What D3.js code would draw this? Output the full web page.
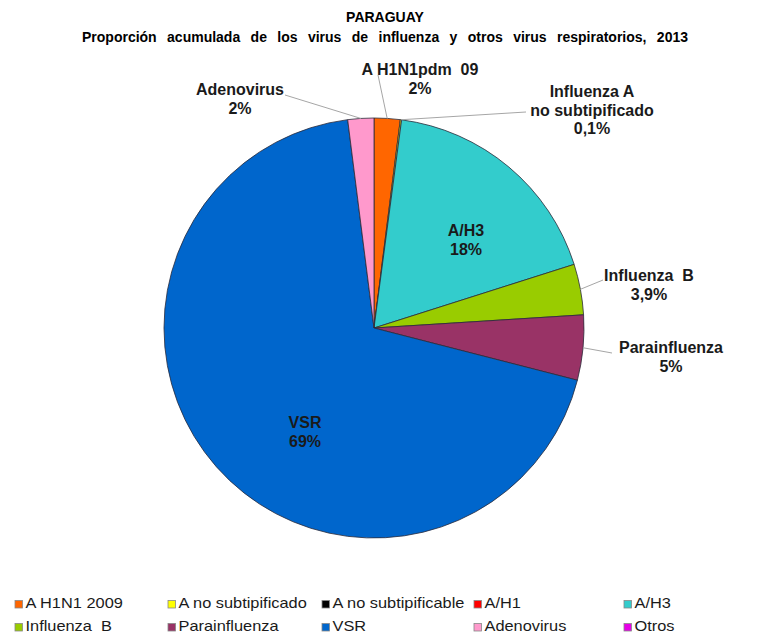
<!DOCTYPE html>
<html>
<head>
<meta charset="utf-8">
<script src="https://cdn.jsdelivr.net/npm/d3@7"></script>
<style>
  body { margin: 0; background: #fff; }
  text { font-family: "Liberation Sans", Arial, sans-serif; }
</style>
</head>
<body>
<div id="chart"></div>
<script>
"use strict"

// data
const categories = ["A H1N1 2009", "A no subtipificado", "A no subtipificable", "A/H1", "A/H3",
  "Influenza  B", "Parainfluenza", "VSR", "Adenovirus", "Otros"];
const values = [2, 0.1, 0, 0, 18, 3.9, 5, 69, 2, 0];
const colors = ["#FF6600", "#FFFF00", "#000000", "#FF0000", "#33CCCC",
  "#99CC00", "#993366", "#0066CC", "#FF99CC", "#E600E6"];
const sliceLabels = ["A H1N1pdm  09|2%", "Influenza A|no subtipificado|0,1%", "", "", "A/H3|18%",
  "Influenza  B|3,9%", "Parainfluenza|5%", "VSR|69%", "Adenovirus|2%", ""];

// where each label goes, relative to the pie centre; lead = draw a leader line
const labelLayout = [
  {dx: 46, dy: -253, lx: 4, ly: -253, lead: true},
  {dx: 218, dy: -231, lx: 152, ly: -216, lead: true},
  null, null,
  {dx: 92, dy: -92, lead: false},
  {dx: 275, dy: -47, lx: 229, ly: -48, lead: true},
  {dx: 297, dy: 25, lx: 238, ly: 25, lead: true},
  {dx: -69, dy: 100, lead: false},
  {dx: -134, dy: -233, lx: -89, ly: -233, lead: true},
  null
];

const width = 761, height = 639;
const cx = 374, cy = 328, radius = 210;

const svg = d3.select("#chart")
  .append("svg")
    .attr("width", width)
    .attr("height", height);

// titles
svg.append("text")
  .attr("x", 385).attr("y", 22)
  .attr("text-anchor", "middle")
  .attr("font-size", 14).attr("font-weight", "bold")
  .text("PARAGUAY");
svg.append("text")
  .attr("x", 385).attr("y", 42)
  .attr("text-anchor", "middle")
  .attr("font-size", 14).attr("font-weight", "bold")
  .attr("word-spacing", 6.5)
  .text("Proporción acumulada de los virus de influenza y otros virus respiratorios, 2013");

const data = categories.map((c, i) => ({name: c, value: values[i], color: colors[i], label: sliceLabels[i], layout: labelLayout[i]}));

const pie = d3.pie()
  .sort(null)
  .value(d => d.value);

const arc = d3.arc()
  .innerRadius(0)
  .outerRadius(radius);

const g = svg.append("g")
  .attr("transform", "translate(" + cx + "," + cy + ")");

const arcs = pie(data);

g.selectAll("path")
  .data(arcs.filter(d => d.data.value > 0))
  .enter()
  .append("path")
    .attr("d", arc)
    .style("fill", d => d.data.color)
    .style("stroke", "#2b2b3a")
    .style("stroke-width", 0.8);

// leader lines
const edge = d3.arc().innerRadius(radius).outerRadius(radius);
arcs.filter(d => d.data.layout && d.data.layout.lead).forEach(function(d) {
  const p = edge.centroid(d);
  g.append("line")
    .attr("x1", p[0]).attr("y1", p[1])
    .attr("x2", d.data.layout.lx).attr("y2", d.data.layout.ly)
    .style("stroke", "#a6a6a6")
    .style("stroke-width", 1);
});

// labels
arcs.filter(d => d.data.layout).forEach(function(d) {
  const lines = d.data.label.split("|");
  const t = g.append("text")
    .attr("text-anchor", "middle")
    .attr("font-size", 16)
    .attr("font-weight", "bold")
    .attr("fill", "#1a1a1a")
    .attr("xml:space", "preserve");
  lines.forEach(function(s, k) {
    t.append("tspan")
      .attr("x", d.data.layout.dx)
      .attr("y", d.data.layout.dy + k * 18.5)
      .text(s);
  });
});

// legend
const legendCols = d3.scaleOrdinal().domain([0, 1, 2, 3, 4]).range([15, 168, 322, 474, 624]);
const legendRows = d3.scaleOrdinal().domain([0, 1]).range([608, 631]);

const leg = svg.selectAll(".leg")
  .data(data)
  .enter()
  .append("g")
    .attr("class", "leg")
    .attr("transform", (d, i) => "translate(" + legendCols(i % 5) + "," + legendRows(Math.floor(i / 5)) + ")");
leg.append("rect")
  .attr("x", 0).attr("y", -7.5)
  .attr("width", 7.5).attr("height", 7.5)
  .style("fill", d => d.color)
  .style("stroke", "#888")
  .style("stroke-width", 0.8);
leg.append("text")
  .attr("transform", "translate(10.5,0) scale(1.17,1)")
  .attr("font-size", 14)
  .attr("fill", "#1a1a1a")
  .attr("xml:space", "preserve")
  .text(d => d.name);
</script>
</body>
</html>
